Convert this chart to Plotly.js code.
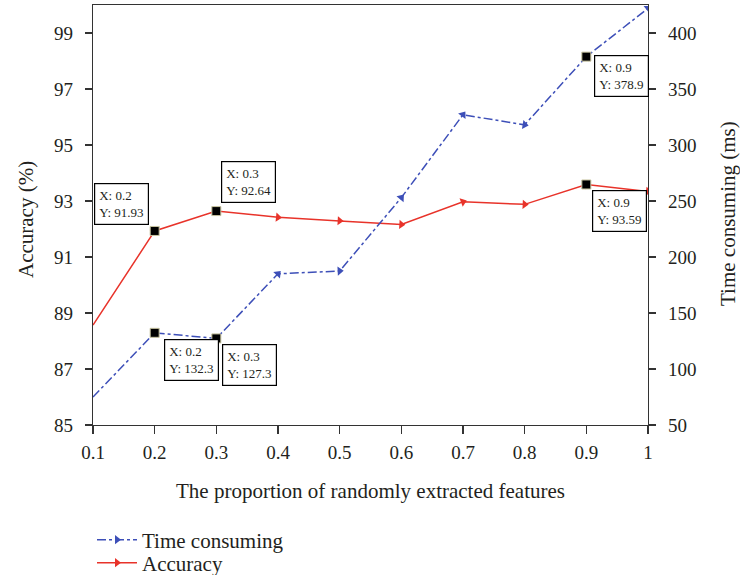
<!DOCTYPE html>
<html>
<head>
<meta charset="utf-8">
<script src="https://cdn.plot.ly/plotly-3.0.1.min.js"></script>
<style>html,body{margin:0;padding:0;background:#fff}#chart{width:740px;height:575px}</style>
</head>
<body>
<div id="chart"></div>
<script>
// Data
const proportion = [0.1, 0.2, 0.3, 0.4, 0.5, 0.6, 0.7, 0.8, 0.9, 1.0];
const xTickLabels = ["0.1", "0.2", "0.3", "0.4", "0.5", "0.6", "0.7", "0.8", "0.9", "1"];
const accuracy = [88.57, 91.93, 92.64, 92.42, 92.29, 92.16, 92.97, 92.88, 93.59, 93.34];
const timeConsuming = [75, 132.3, 127.3, 185, 187.5, 253, 327, 318, 378.9, 422];
const accTipIdx = [1, 2, 8];
const timeTipIdx = [1, 2, 8];
const seriesNames = ["Time consuming", "Accuracy"];
const axisTitles = {x: "The proportion of randomly extracted features", yLeft: "Accuracy (%)", yRight: "Time consuming (ms)"};

const font = "Liberation Serif, Times New Roman, serif";
const ink = "#231f20";
const blue = "#3d4fb8";
const red = "#e8332a";

const traces = [
  {
    x: proportion, y: timeConsuming, yaxis: "y2", name: seriesNames[0], legend: "legend",
    mode: "lines+markers",
    line: {color: blue, width: 1.5, dash: "dashdot"},
    marker: {symbol: "triangle-up", size: 8, color: blue, angleref: "previous"}
  },
  {
    x: proportion, y: accuracy, name: seriesNames[1], legend: "legend2",
    mode: "lines+markers",
    line: {color: red, width: 1.5},
    marker: {symbol: "triangle-up", size: 8, color: red, angleref: "previous"}
  },
  {
    x: timeTipIdx.map(i => proportion[i]), y: timeTipIdx.map(i => timeConsuming[i]), yaxis: "y2",
    mode: "markers", showlegend: false, hoverinfo: "skip",
    marker: {symbol: "square", size: 9, color: "#000", line: {color: "#c8c4a0", width: 1}}
  },
  {
    x: accTipIdx.map(i => proportion[i]), y: accTipIdx.map(i => accuracy[i]),
    mode: "markers", showlegend: false, hoverinfo: "skip",
    marker: {symbol: "square", size: 9, color: "#000", line: {color: "#c8c4a0", width: 1}}
  }
];

function tip(i, yvals, yref, xanchor, yanchor, xshift, yshift) {
  return {
    x: proportion[i], y: yvals[i], xref: "x", yref: yref,
    text: "X: " + xTickLabels[i] + "<br>Y: " + yvals[i],
    showarrow: false, align: "left",
    xanchor: xanchor, yanchor: yanchor, xshift: xshift, yshift: yshift,
    bgcolor: "#fff", bordercolor: "#000", borderwidth: 1.2, borderpad: 4,
    font: {family: font, size: 13, color: ink}
  };
}

const annotations = [
  tip(1, accuracy, "y", "right", "bottom", -6, 6),
  tip(2, accuracy, "y", "left", "bottom", 5, 8),
  tip(8, accuracy, "y", "left", "top", 6, -6),
  tip(1, timeConsuming, "y2", "left", "top", 9, -6),
  tip(2, timeConsuming, "y2", "left", "top", 6, -6),
  tip(8, timeConsuming, "y2", "left", "top", 8, 2),
  {
    text: axisTitles.yLeft, xref: "paper", yref: "paper", x: (26 - 93) / 555, y: (425 - 220) / 420,
    xanchor: "center", yanchor: "middle", textangle: -90, showarrow: false,
    font: {family: font, size: 21, color: ink}
  },
  {
    text: axisTitles.yRight, xref: "paper", yref: "paper", x: (728 - 93) / 555, y: (425 - 214) / 420,
    xanchor: "center", yanchor: "middle", textangle: -90, showarrow: false,
    font: {family: font, size: 21, color: ink}
  }
];

function legendAt(cy) {
  return {
    x: 92 / 740, y: 1 - cy / 575, xref: "container", yref: "container",
    xanchor: "left", yanchor: "middle",
    font: {family: font, size: 21, color: ink},
    bgcolor: "rgba(0,0,0,0)", itemwidth: 40
  };
}

const layout = {
  width: 740, height: 575,
  margin: {l: 93, r: 92, t: 5, b: 150, autoexpand: false},
  paper_bgcolor: "#fff", plot_bgcolor: "#fff",
  font: {family: font, color: ink, size: 19},
  showlegend: true,
  legend: legendAt(540),
  legend2: legendAt(563),
  xaxis: {
    range: [0.1, 1], tickvals: proportion, ticktext: xTickLabels,
    showgrid: false, zeroline: false,
    showline: true, linecolor: "#333", linewidth: 1.3, mirror: true,
    ticks: "outside", ticklen: 8, tickcolor: "#333", tickwidth: 1.2,
    tickfont: {family: font, size: 19, color: ink}, ticklabelstandoff: 2,
    title: {text: axisTitles.x, font: {family: font, size: 21, color: ink}}
  },
  yaxis: {
    range: [85, 100], tick0: 85, dtick: 2,
    showgrid: false, zeroline: false,
    showline: true, linecolor: "#333", linewidth: 1.3,
    ticks: "outside", ticklen: 7, tickcolor: "#333", tickwidth: 1.2,
    tickfont: {family: font, size: 19, color: ink}, ticklabelstandoff: 8
  },
  yaxis2: {
    range: [50, 425], tick0: 50, dtick: 50, overlaying: "y", side: "right",
    showgrid: false, zeroline: false,
    showline: true, linecolor: "#333", linewidth: 1.3,
    ticks: "outside", ticklen: 7, tickcolor: "#333", tickwidth: 1.2,
    tickfont: {family: font, size: 19, color: ink}, ticklabelstandoff: 8
  },
  annotations: annotations
};

Plotly.newPlot("chart", traces, layout, {staticPlot: true});
</script>
</body>
</html>
